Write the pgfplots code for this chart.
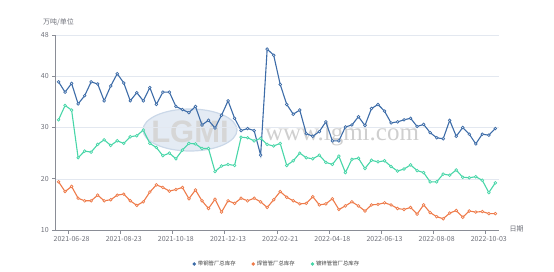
\documentclass[border=0pt]{standalone}
\usepackage{fontspec}
\setmainfont{Noto Sans CJK SC}
\newfontfamily\wmfont{Liberation Serif}
\newfontfamily\logofont{Liberation Sans}
\usepackage{pgfplots}
\usepackage{pgfplotstable}
\pgfplotsset{compat=1.18}
\definecolor{cblue}{HTML}{3D6CA8}
\definecolor{corange}{HTML}{EE7B4A}
\definecolor{cgreen}{HTML}{48D6A8}
\definecolor{axisgray}{HTML}{8A8D96}
\definecolor{gridgray}{HTML}{E3E8F0}
\definecolor{labelgray}{HTML}{6E7079}
\definecolor{wmblue}{HTML}{E4EBF4}
\definecolor{wmring}{HTML}{CBD8E8}

\pgfplotstableread{
i b o g
0 38.9 19.4 31.5
1 36.9 17.5 34.3
2 38.6 18.5 33.4
3 34.6 16.2 24.1
4 36.2 15.7 25.4
5 38.9 15.7 25.2
6 38.5 16.8 26.7
7 35.2 15.7 27.6
8 38.1 15.9 26.5
9 40.5 16.8 27.4
10 38.7 17.0 26.9
11 35.2 15.7 28.2
12 36.8 14.8 28.4
13 35.2 15.5 29.5
14 37.8 17.4 26.9
15 34.5 18.8 26.1
16 36.9 18.3 24.5
17 36.9 17.6 25.0
18 34.1 17.9 23.9
19 33.5 18.3 25.6
20 32.9 16.1 26.9
21 34.1 17.8 26.8
22 30.5 15.7 25.9
23 31.4 14.2 25.9
24 29.9 16.0 21.4
25 32.4 13.5 22.5
26 35.2 15.7 22.8
27 31.8 15.2 22.6
28 29.4 16.2 28.1
29 29.8 15.7 28.0
30 29.4 16.2 27.4
31 24.6 15.5 27.9
32 45.3 14.4 26.7
33 44.1 15.9 26.4
34 38.4 17.5 26.9
35 34.5 16.4 22.6
36 32.6 15.7 23.5
37 33.4 15.1 25.0
38 28.8 15.2 24.1
39 28.3 16.5 23.9
40 29.2 14.9 24.6
41 31.1 15.1 23.2
42 27.4 16.1 22.8
43 27.4 14.0 24.4
44 30.1 14.7 21.2
45 30.5 15.5 23.8
46 32.1 14.7 24.0
47 30.4 13.7 22.0
48 33.7 14.9 23.6
49 34.5 15.0 23.3
50 33.2 15.3 23.5
51 30.9 14.9 22.4
52 31.1 14.2 21.5
53 31.5 14.0 21.9
54 31.8 14.4 22.7
55 30.2 13.1 21.6
56 30.6 14.9 21.2
57 29.0 13.4 19.4
58 28.0 12.6 19.4
59 27.8 12.2 20.9
60 31.4 13.3 20.7
61 28.3 13.8 21.7
62 30.0 12.5 20.3
63 28.7 13.7 20.2
64 26.8 13.5 20.4
65 28.7 13.6 19.7
66 28.5 13.2 17.3
67 29.8 13.2 19.2
}\datatable

\begin{document}
\begin{tikzpicture}
\useasboundingbox (0pt,0pt) rectangle (554pt,271pt);
% watermark
\fill[wmblue, draw=wmring, line width=1.2pt] (190pt,141pt) ellipse (47pt and 21pt);
\node[font=\logofont\bfseries\fontsize{31}{31}\selectfont, text=gray!32] at (190pt,139pt) {LGMI};
\node[font=\wmfont\fontsize{25}{25}\selectfont, text=gray!38] at (342pt,136pt) {www.lgmi.com};
\begin{axis}[
  name=ax, at={(55.3pt,41pt)}, anchor=south west,
  scale only axis, width=443.3pt, height=194.75pt,
  xmin=-0.5, xmax=67.5, ymin=10, ymax=48,
  ytick={10,20,30,40,48},
  xtick={2,10,...,66},
  xticklabels={2021-06-28,2021-08-23,2021-10-18,2021-12-13,2022-02-21,2022-04-18,2022-06-13,2022-08-08,2022-10-03},
  minor xtick={1.5,9.5,...,65.5},
  axis x line*=bottom, axis y line*=left,
  axis line style={draw=axisgray, line width=0.6pt},
  tick align=outside,
  major tick length=3pt, minor tick length=4pt,
  tick style={draw=axisgray, line width=0.6pt},
  major x tick style={draw=none},
  ymajorgrids, grid style={draw=gridgray, line width=0.5pt},
  ticklabel style={font=\fontsize{7}{8}\selectfont, text=labelgray},
  /pgf/number format/assume math mode=true,
  legend columns=3,
  legend style={at={(0.5,-0.1746)}, anchor=center, draw=none, fill=none,
    font=\fontsize{5.4}{6}\selectfont, text=black!75,
    /tikz/every even column/.append style={column sep=14pt}},
  legend image code/.code={\fill[#1] (0pt,0pt) circle (1.1pt);},
]
\addplot[color=cblue, line width=1.1pt, mark=*, mark size=1.35pt,
  mark options={fill=white, draw=cblue, line width=0.7pt}] table[x=i,y=b] {\datatable};
\addplot[color=corange, line width=1.1pt, mark=*, mark size=1.35pt,
  mark options={fill=white, draw=corange, line width=0.7pt}] table[x=i,y=o] {\datatable};
\addplot[color=cgreen, line width=1.1pt, mark=*, mark size=1.35pt,
  mark options={fill=white, draw=cgreen, line width=0.7pt}] table[x=i,y=g] {\datatable};
\legend{带钢管厂总库存,焊管管厂总库存,镀锌管管厂总库存}
\end{axis}
\node[anchor=west, font=\fontsize{7}{8}\selectfont, text=labelgray] at (39.5pt,249pt) {万吨/单位};
\node[anchor=west, font=\fontsize{7}{8}\selectfont, text=labelgray] at (506pt,42pt) {日期};
\end{tikzpicture}
\end{document}
